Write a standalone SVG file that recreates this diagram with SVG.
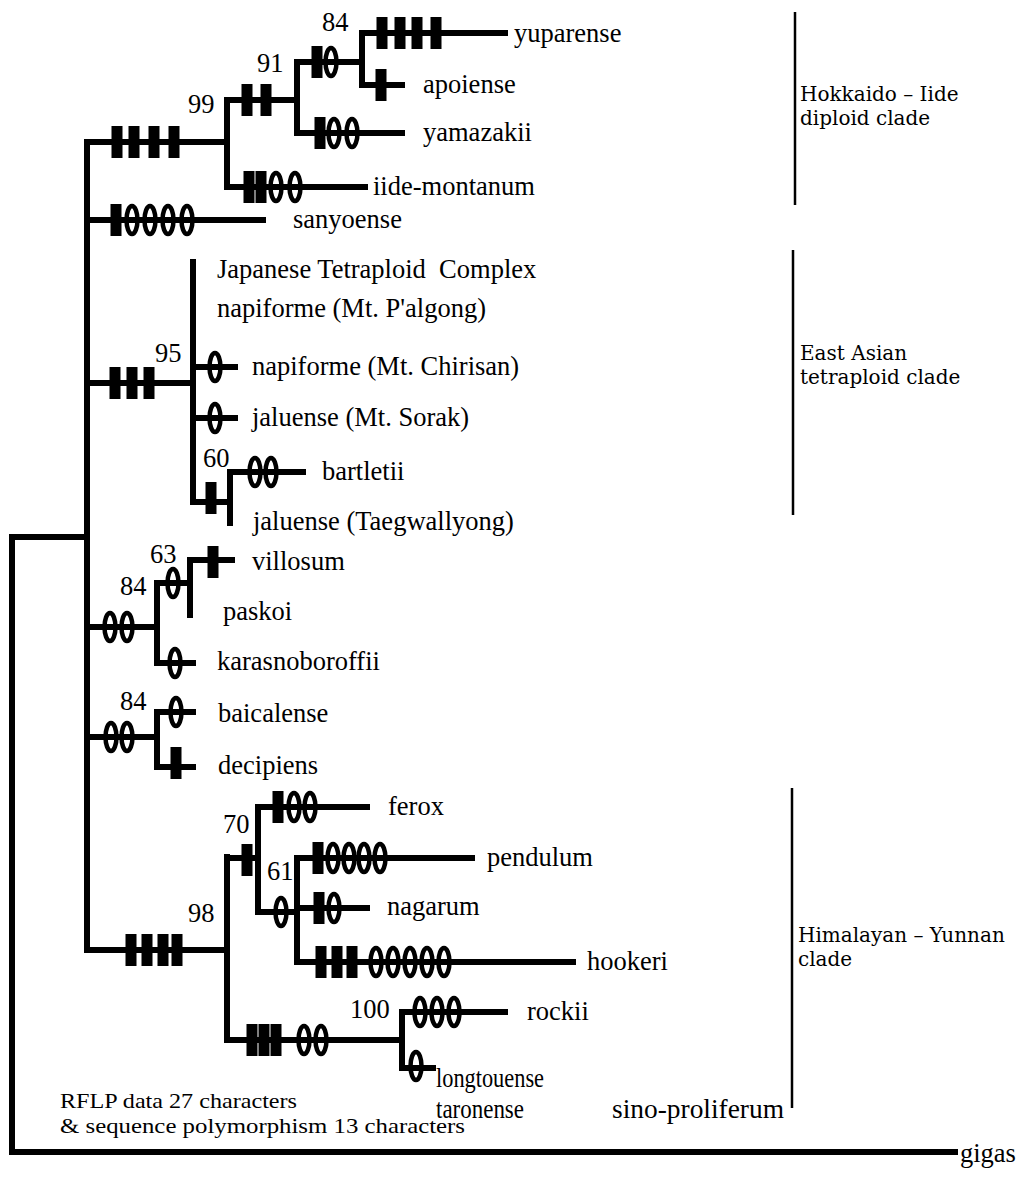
<svg xmlns="http://www.w3.org/2000/svg" xmlns:xlink="http://www.w3.org/1999/xlink" width="1019" height="1184" viewBox="0 0 1019 1184">
<style>
.br{fill:none;stroke:#000;stroke-width:6;stroke-linecap:square}
.cb{fill:none;stroke:#000;stroke-width:2.5}
.t{font-family:"Liberation Serif","Times New Roman",serif;font-size:26.5px;fill:#000}
.n{font-family:"Liberation Serif","Times New Roman",serif;font-size:26.5px;fill:#000}
.c{font-family:"DejaVu Serif","Liberation Serif",serif;font-size:20px;fill:#000}
.f{font-family:"Liberation Serif","Times New Roman",serif;font-size:21px;fill:#000}
.ov{fill:none;stroke:#000;stroke-width:4.5}
</style>
<defs>
<rect id="b" x="-5.5" y="-16" width="11" height="32" fill="#000"/>
<ellipse id="o" cx="0" cy="0" rx="5.5" ry="14" class="ov"/>
</defs>
<rect width="1019" height="1184" fill="#fff"/>
<g id="connectors">
<path class="br" d="M12,537V1152H955M12,537H87M87,142V950"/>
<path class="br" d="M87,142H227M227,100V187M227,100H297M297,62V133M297,62H362M362,33V85M362,33H505M362,85H402M297,133H402M227,187H365"/>
<path class="br" d="M87,220H263"/>
<path class="br" d="M87,383H193M193,262V502M193,367H235M193,418H235M193,502H230M230,472V523M230,472H303"/>
<path class="br" d="M87,627H157M157,583V663M157,583H190M190,560V615M190,560H232M157,663H193"/>
<path class="br" d="M87,737H157M157,712V767M157,712H193M157,767H193"/>
<path class="br" d="M87,950H227M227,857V1040M227,858H258M258,807V912M258,807H367M258,912H297M297,858V962M297,858H472M297,908H367M297,962H573M227,1040H402M402,1012V1068M402,1012H505M402,1068H433"/>
</g>
<g id="characters">
<use xlink:href="#b" x="117" y="142"/><use xlink:href="#b" x="134" y="142"/><use xlink:href="#b" x="154" y="142"/><use xlink:href="#b" x="174" y="142"/>
<use xlink:href="#b" x="247" y="100"/><use xlink:href="#b" x="266" y="100"/>
<use xlink:href="#b" x="317" y="62"/><use xlink:href="#o" x="331" y="62"/>
<use xlink:href="#b" x="382" y="33"/><use xlink:href="#b" x="400" y="33"/><use xlink:href="#b" x="417" y="33"/><use xlink:href="#b" x="436" y="33"/>
<use xlink:href="#b" x="381" y="85"/>
<use xlink:href="#b" x="320" y="133"/><use xlink:href="#o" x="334" y="133"/><use xlink:href="#o" x="352" y="133"/>
<use xlink:href="#b" x="249" y="187"/><use xlink:href="#b" x="261" y="187"/><use xlink:href="#o" x="276" y="187"/><use xlink:href="#o" x="295" y="187"/>
<use xlink:href="#b" x="116" y="220"/><use xlink:href="#o" x="132" y="220"/><use xlink:href="#o" x="150" y="220"/><use xlink:href="#o" x="168" y="220"/><use xlink:href="#o" x="187" y="220"/>
<use xlink:href="#b" x="115" y="383"/><use xlink:href="#b" x="132" y="383"/><use xlink:href="#b" x="149" y="383"/>
<use xlink:href="#o" x="215" y="367"/>
<use xlink:href="#o" x="215" y="418"/>
<use xlink:href="#b" x="211" y="498"/>
<use xlink:href="#o" x="255" y="472"/><use xlink:href="#o" x="271" y="472"/>
<use xlink:href="#o" x="110" y="627"/><use xlink:href="#o" x="127" y="627"/>
<use xlink:href="#o" x="173" y="583"/>
<use xlink:href="#b" x="213" y="562"/>
<use xlink:href="#o" x="175" y="663"/>
<use xlink:href="#o" x="111" y="737"/><use xlink:href="#o" x="127" y="737"/>
<use xlink:href="#o" x="176" y="712"/>
<use xlink:href="#b" x="176" y="763"/>
<use xlink:href="#b" x="131" y="950"/><use xlink:href="#b" x="147" y="950"/><use xlink:href="#b" x="163" y="950"/><use xlink:href="#b" x="177" y="950"/>
<use xlink:href="#b" x="247" y="860"/>
<use xlink:href="#b" x="278" y="807"/><use xlink:href="#o" x="294" y="807"/><use xlink:href="#o" x="310" y="807"/>
<use xlink:href="#o" x="281" y="912"/>
<use xlink:href="#b" x="318" y="858"/><use xlink:href="#o" x="333" y="858"/><use xlink:href="#o" x="349" y="858"/><use xlink:href="#o" x="364" y="858"/><use xlink:href="#o" x="380" y="858"/>
<use xlink:href="#b" x="319" y="908"/><use xlink:href="#o" x="334" y="908"/>
<use xlink:href="#b" x="321" y="962"/><use xlink:href="#b" x="337" y="962"/><use xlink:href="#b" x="352" y="962"/><use xlink:href="#o" x="376" y="962"/><use xlink:href="#o" x="393" y="962"/><use xlink:href="#o" x="410" y="962"/><use xlink:href="#o" x="427" y="962"/><use xlink:href="#o" x="444" y="962"/>
<use xlink:href="#b" x="252" y="1040"/><use xlink:href="#b" x="264" y="1040"/><use xlink:href="#b" x="276" y="1040"/><use xlink:href="#o" x="304" y="1040"/><use xlink:href="#o" x="321" y="1040"/>
<use xlink:href="#o" x="420" y="1012"/><use xlink:href="#o" x="437" y="1012"/><use xlink:href="#o" x="454" y="1012"/>
<use xlink:href="#o" x="416" y="1066"/>
</g>
<g id="support">
<text class="n" x="188" y="113">99</text>
<text class="n" x="257" y="72">91</text>
<text class="n" x="322" y="31">84</text>
<text class="n" x="155" y="362">95</text>
<text class="n" x="203" y="467">60</text>
<text class="n" x="150" y="563">63</text>
<text class="n" x="120" y="595">84</text>
<text class="n" x="120" y="710">84</text>
<text class="n" x="223" y="833">70</text>
<text class="n" x="267" y="880">61</text>
<text class="n" x="188" y="922">98</text>
<text class="n" x="350" y="1018">100</text>
</g>
<g id="taxon-yuparense"><text class="t" x="514" y="42">yuparense</text></g>
<g id="taxon-apoiense"><text class="t" x="423" y="93">apoiense</text></g>
<g id="taxon-yamazakii"><text class="t" x="423" y="141">yamazakii</text></g>
<g id="taxon-iide-montanum"><text class="t" x="373" y="195">iide-montanum</text></g>
<g id="taxon-sanyoense"><text class="t" x="293" y="228">sanyoense</text></g>
<g id="taxon-japanese-tetraploid"><text class="t" x="217" y="278" xml:space="preserve">Japanese Tetraploid  Complex</text></g>
<g id="taxon-napiforme-palgong"><text class="t" x="217" y="317">napiforme (Mt. P'algong)</text></g>
<g id="taxon-napiforme-chirisan"><text class="t" x="252" y="375">napiforme (Mt. Chirisan)</text></g>
<g id="taxon-jaluense-sorak"><text class="t" x="252" y="426">jaluense (Mt. Sorak)</text></g>
<g id="taxon-bartletii"><text class="t" x="322" y="480">bartletii</text></g>
<g id="taxon-jaluense-taegwallyong"><text class="t" x="253" y="530">jaluense (Taegwallyong)</text></g>
<g id="taxon-villosum"><text class="t" x="252" y="570">villosum</text></g>
<g id="taxon-paskoi"><text class="t" x="223" y="620">paskoi</text></g>
<g id="taxon-karasnoboroffii"><text class="t" x="217" y="670">karasnoboroffii</text></g>
<g id="taxon-baicalense"><text class="t" x="218" y="722">baicalense</text></g>
<g id="taxon-decipiens"><text class="t" x="218" y="774">decipiens</text></g>
<g id="taxon-ferox"><text class="t" x="388" y="815">ferox</text></g>
<g id="taxon-pendulum"><text class="t" x="487" y="866">pendulum</text></g>
<g id="taxon-nagarum"><text class="t" x="387" y="915">nagarum</text></g>
<g id="taxon-hookeri"><text class="t" x="587" y="970">hookeri</text></g>
<g id="taxon-rockii"><text class="t" x="527" y="1020">rockii</text></g>
<g id="taxon-longtouense"><text class="t" x="436" y="1087" textLength="108" lengthAdjust="spacingAndGlyphs">longtouense</text></g>
<g id="taxon-taronense"><text class="t" x="436" y="1118" textLength="88" lengthAdjust="spacingAndGlyphs">taronense</text></g>
<g id="taxon-sino-proliferum"><text class="t" x="612" y="1118" textLength="172" lengthAdjust="spacingAndGlyphs">sino-proliferum</text></g>
<g id="taxon-gigas"><text class="t" x="960" y="1162">gigas</text></g>
<g id="clade-hokkaido"><path class="cb" d="M795,12V205"/><text class="c" x="800" y="101">Hokkaido – Iide</text><text class="c" x="800" y="125">diploid clade</text></g>
<g id="clade-eastasian"><path class="cb" d="M793,250V515"/><text class="c" x="800" y="360">East Asian</text><text class="c" x="800" y="384">tetraploid clade</text></g>
<g id="clade-himalayan"><path class="cb" d="M792,788V1108"/><text class="c" x="798" y="942">Himalayan – Yunnan</text><text class="c" x="798" y="966">clade</text></g>
<g id="note"><text class="f" x="60" y="1108" textLength="237" lengthAdjust="spacingAndGlyphs">RFLP data 27 characters</text><text class="f" x="60" y="1133" textLength="405" lengthAdjust="spacingAndGlyphs">&amp; sequence polymorphism 13 characters</text></g>
</svg>
